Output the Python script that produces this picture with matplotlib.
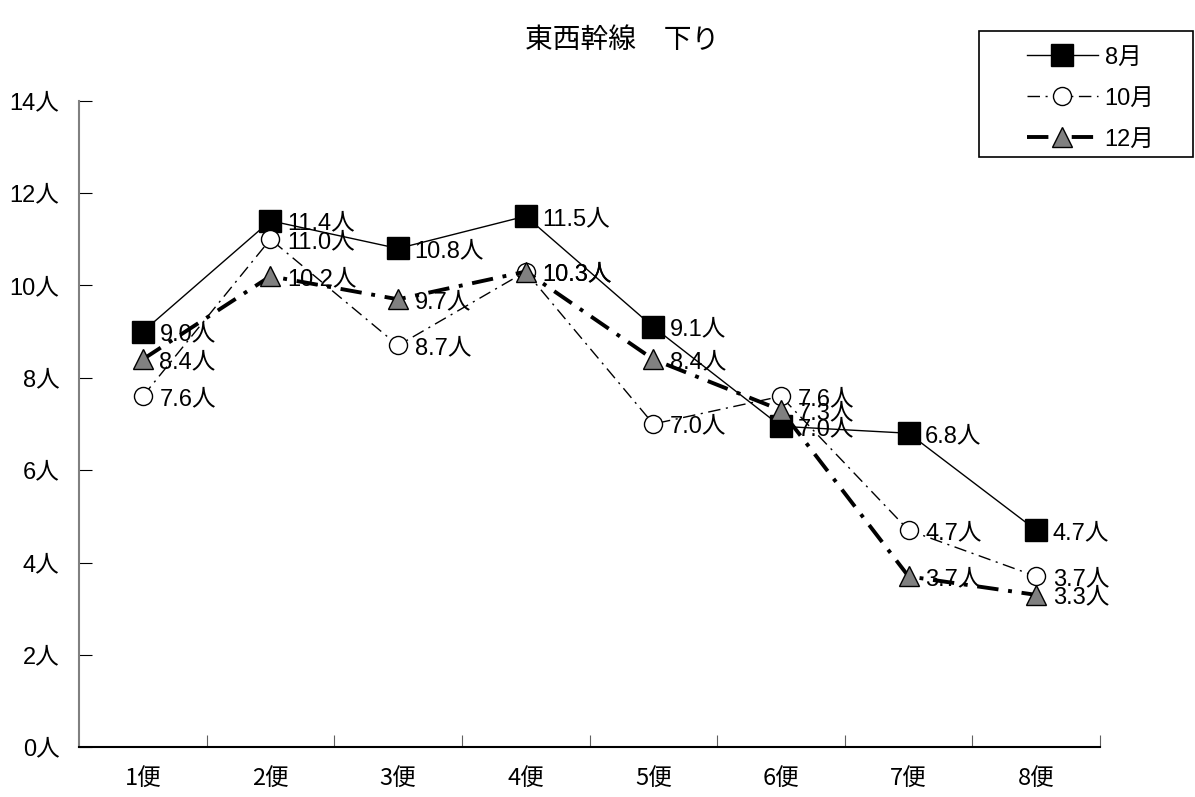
import numpy as np
import matplotlib
matplotlib.use("Agg")
import matplotlib.pyplot as plt
from matplotlib.patches import Rectangle

plt.rcParams['font.family'] = ['Liberation Sans', 'Noto Sans CJK JP']

# データ
categories = ['1便', '2便', '3便', '4便', '5便', '6便', '7便', '8便']
aug = [9.0, 11.4, 10.8, 11.5, 9.1, 6.95, 6.8, 4.7]
octo = [7.6, 11.0, 8.7, 10.3, 7.0, 7.6, 4.7, 3.7]
dec = [8.4, 10.2, 9.7, 10.3, 8.4, 7.3, 3.7, 3.3]
yticks = [0, 2, 4, 6, 8, 10, 12, 14]

fig = plt.figure(figsize=(11.95, 7.97), dpi=100)
ax = fig.add_axes([79 / 1195, 1 - 747.3 / 797, 1021 / 1195, 646.6 / 797])

x = np.arange(len(categories)) + 0.5

l1, = ax.plot(x, aug, color='black', lw=1.0, marker='s', markersize=16,
              markerfacecolor='black', markeredgecolor='black', label='8月', zorder=3)
l2, = ax.plot(x, octo, color='black', lw=1.0, marker='o', markersize=13,
              markerfacecolor='white', markeredgecolor='black', label='10月', zorder=4)
l2.set_dashes([9, 4, 1.5, 4])
l3, = ax.plot(x, dec, color='black', lw=2.8, marker='^', markersize=15,
              markerfacecolor='#808080', markeredgecolor='black', markeredgewidth=1.0,
              label='12月', zorder=5)
l3.set_dashes([5.5, 2.5, 1, 2.5])

for series in (aug, octo, dec):
    for xi, v in zip(x, series):
        ax.annotate(f'{v:.1f}人', (xi, v), xytext=(12, -2), textcoords='offset points',
                    ha='left', va='center', fontsize=17, zorder=6)

ax.set_xlim(0, 8)
ax.set_ylim(0, 14)
ax.set_yticks(yticks)
ax.set_yticklabels([f'{t}人' for t in yticks], fontsize=17)
ax.set_xticks(np.arange(1, 9))
ax.set_xticklabels([])
ax.set_xticks(x, minor=True)
ax.set_xticklabels(categories, minor=True, fontsize=17,
                   family=['Noto Sans CJK JP'])
ax.tick_params(axis='x', which='major', direction='in', length=9, color='#606060')
ax.tick_params(axis='x', which='minor', length=0, pad=14)
ax.tick_params(axis='y', direction='in', length=9, pad=14)

for s in ('top', 'right'):
    ax.spines[s].set_visible(False)
ax.spines['left'].set_color('#808080')
ax.spines['left'].set_linewidth(1.5)
ax.spines['bottom'].set_color('black')
ax.spines['bottom'].set_linewidth(1.5)

fig.text(622 / 1195, 1 - 40 / 797, '東西幹線　下り', ha='center', va='center',
         fontsize=20, family=['Noto Sans CJK JP'])

# 凡例の枠
fig.patches.append(Rectangle((979 / 1195, 1 - 157 / 797), 214 / 1195, 126 / 797,
                             transform=fig.transFigure, fill=False,
                             edgecolor='black', linewidth=1.2))
leg = fig.legend(handles=[l1, l2, l3], loc='upper left',
                 bbox_to_anchor=(1022 / 1195, 1 - 42 / 797), fontsize=17,
                 frameon=False, handlelength=3.0,
                 borderpad=0.2, labelspacing=0.8, handletextpad=0.3,
                 borderaxespad=0, markerscale=1.0)

fig.savefig('out.png', dpi=100)
